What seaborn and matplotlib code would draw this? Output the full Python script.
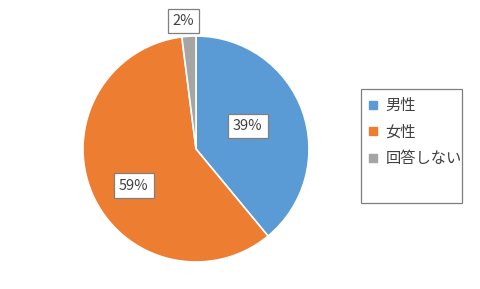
import numpy as np
import matplotlib
matplotlib.use("Agg")
import matplotlib.pyplot as plt
import seaborn as sns
from matplotlib.lines import Line2D
from matplotlib.patches import Rectangle

categories = ["男性", "女性", "回答しない"]
values = [39, 59, 2]
colors = ["#5B9BD5", "#ED7D31", "#A5A5A5"]
label_dist = [0.5, 0.64, 1.14]
label_turn = [4, 7, 2]

sns.set_theme(style="white")
plt.rcParams['font.family'] = ['Noto Sans CJK JP', 'DejaVu Sans']

fig = plt.figure(figsize=(4.8, 2.89), dpi=100)
W, H = 480, 289
cx, cy, r = 196, 149, 113
ax = fig.add_axes([(cx - r) / W, (H - cy - r) / H, 2 * r / W, 2 * r / H])
wedges, _ = ax.pie(values, colors=colors, startangle=90, counterclock=False,
                   wedgeprops=dict(edgecolor="white", linewidth=1.2))
ax.set_xlim(-1, 1)
ax.set_ylim(-1, 1)
ax.set_aspect("equal")
ax.axis("off")

total = sum(values)
for w, v, d, t in zip(wedges, values, label_dist, label_turn):
    ang = np.deg2rad((w.theta1 + w.theta2) / 2 + t)
    ax.text(d * np.cos(ang), d * np.sin(ang), f"{round(100 * v / total)}%",
            ha="center", va="center", fontsize=10.5, color="#404040",
            bbox=dict(boxstyle="square,pad=0.35", fc="white", ec="#7F7F7F", lw=0.9),
            clip_on=False)

fig.patches.append(Rectangle((361 / W, (H - 203) / H), 101 / W, 114 / H,
                             transform=fig.transFigure, fill=False,
                             ec="#7F7F7F", lw=0.9))
handles = [Line2D([0], [0], marker="s", color=c, linestyle="none", markersize=6)
           for c in colors]
fig.legend(handles, categories, loc="upper left",
           bbox_to_anchor=(364 / W, (H - 94) / H), frameon=False,
           fontsize=11, labelcolor="#404040", handlelength=0.8,
           handletextpad=0.4, labelspacing=0.62, borderpad=0.2,
           borderaxespad=0)

fig.savefig("out.png", dpi=100)
